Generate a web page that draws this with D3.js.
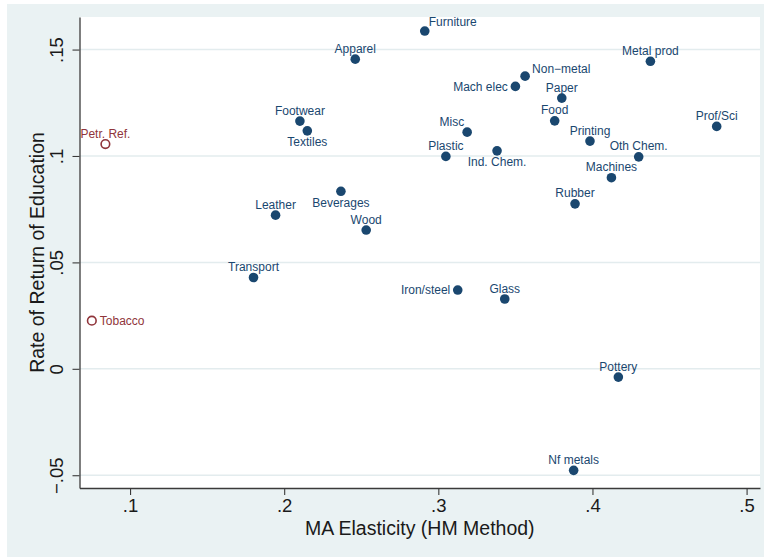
<!DOCTYPE html>
<html>
<head>
<meta charset="utf-8">
<script src="https://cdn.jsdelivr.net/npm/d3@7/dist/d3.min.js"></script>
<style>
  html, body { margin: 0; padding: 0; background: #ffffff; }
  svg { display: block; }
  text { font-family: "Liberation Sans", Arial, sans-serif; }
</style>
</head>
<body>
<svg id="chart" width="764" height="557"></svg>
<script>
// Industries: market-access elasticity vs. rate of return to education
const industries = [
  "Furniture", "Apparel", "Footwear", "Textiles", "Misc", "Plastic", "Ind. Chem.",
  "Beverages", "Leather", "Wood", "Transport", "Mach elec", "Non\u2212metal",
  "Metal prod", "Paper", "Food", "Prof/Sci", "Printing", "Oth Chem.", "Machines",
  "Rubber", "Iron/steel", "Glass", "Pottery", "Nf metals"
];
const maElasticity = [
  0.2912, 0.2461, 0.2102, 0.2150, 0.3187, 0.3049, 0.3381,
  0.2368, 0.1944, 0.2532, 0.1801, 0.3500, 0.3563,
  0.4376, 0.3801, 0.3755, 0.4806, 0.3984, 0.4300, 0.4123,
  0.3887, 0.3126, 0.3431, 0.4168, 0.3878
];
const returnEdu = [
  0.1587, 0.1455, 0.1164, 0.1118, 0.1112, 0.0998, 0.1024,
  0.0834, 0.0722, 0.0652, 0.0429, 0.1327, 0.1375,
  0.1445, 0.1272, 0.1165, 0.1139, 0.1070, 0.0996, 0.0898,
  0.0775, 0.0370, 0.0328, -0.0039, -0.0477
];

// Outlying industries, drawn as hollow markers
const outliers = ["Petr. Ref.", "Tobacco"];
const outlierElasticity = [0.0840, 0.0752];
const outlierReturn = [0.1056, 0.0226];

// Axis ticks
const xTickVals = [0.1, 0.2, 0.3, 0.4, 0.5];
const xTickLabels = [".1", ".2", ".3", ".4", ".5"];
const yTickVals = [-0.05, 0, 0.05, 0.1, 0.15];
const yTickLabels = ["\u2212.05", "0", ".05", ".1", ".15"];

const xTitle = "MA Elasticity (HM Method)";
const yTitle = "Rate of Return of Education";

// Label placement (clock positions), default is 12 o'clock
const labelClock = {
  "Furniture": 1, "Misc": 11,
  "Textiles": 6, "Ind. Chem.": 6, "Beverages": 6,
  "Mach elec": 9, "Iron/steel": 9, "Tobacco": 3, "Non\u2212metal": 2
};

const navy = "#1a476f";
const maroon = "#90353b";

const svg = d3.select("#chart");
const W = 764, H = 557;
const plot = { left: 79.5, top: 17, right: 760, bottom: 488 };

// figure background
svg.append("rect").attr("x", 7).attr("y", 4).attr("width", W - 7).attr("height", H - 4)
  .attr("fill", "#eaf2f3");
svg.append("rect").attr("x", plot.left).attr("y", plot.top)
  .attr("width", plot.right - plot.left).attr("height", plot.bottom - plot.top)
  .attr("fill", "#ffffff");

const x = d3.scaleLinear().domain([0.0672, 0.5087]).range([plot.left, plot.right]);
const y = d3.scaleLinear().domain([-0.0560, 0.1653]).range([plot.bottom, plot.top]);

// horizontal gridlines
svg.append("g").selectAll("line").data(yTickVals).join("line")
  .attr("x1", plot.left).attr("x2", plot.right)
  .attr("y1", d => y(d)).attr("y2", d => y(d))
  .attr("stroke", "#e3ecee").attr("stroke-width", 1.5);

// axes
const yAxis = d3.axisLeft(y).tickValues(yTickVals)
  .tickFormat((d, i) => yTickLabels[i]).tickSize(7).tickSizeOuter(0);
const gy = svg.append("g").attr("transform", `translate(${plot.left},0)`).call(yAxis);
gy.select(".domain").attr("stroke", "#3a3a3a").attr("stroke-width", 1.3);
gy.selectAll(".tick line").attr("stroke", "#3a3a3a").attr("stroke-width", 1.1);
gy.selectAll(".tick text")
  .attr("x", 0).attr("dy", null).attr("y", 0)
  .attr("transform", "translate(-16.5,0) rotate(-90)")
  .attr("text-anchor", "middle")
  .attr("font-size", 18.5).attr("fill", "#1a1a1a")
  .style("font-family", "'Liberation Sans', Arial, sans-serif");

const xAxis = d3.axisBottom(x).tickValues(xTickVals)
  .tickFormat((d, i) => xTickLabels[i]).tickSize(7).tickSizeOuter(0);
const gx = svg.append("g").attr("transform", `translate(0,${plot.bottom})`).call(xAxis);
gx.select(".domain").attr("stroke", "#3a3a3a").attr("stroke-width", 1.3);
gx.selectAll(".tick line").attr("stroke", "#3a3a3a").attr("stroke-width", 1.1);
gx.selectAll(".tick text")
  .attr("y", 24).attr("dy", null)
  .attr("font-size", 18.5).attr("fill", "#1a1a1a")
  .style("font-family", "'Liberation Sans', Arial, sans-serif");

// axis titles
svg.append("text").attr("x", (plot.left + plot.right) / 2).attr("y", 535)
  .attr("text-anchor", "middle").attr("font-size", 19.5).attr("fill", "#1a1a1a")
  .text(xTitle);
svg.append("text")
  .attr("transform", `translate(43.5,${(plot.top + plot.bottom) / 2}) rotate(-90)`)
  .attr("text-anchor", "middle").attr("font-size", 19.5).attr("fill", "#1a1a1a")
  .text(yTitle);

// label placement helper
function placeLabel(sel) {
  sel.each(function (d) {
    const t = d3.select(this);
    const cx = x(d.x), cy = y(d.y);
    const pos = labelClock[d.name] || 12;
    if (pos === 12) {
      t.attr("x", cx).attr("y", cy - 6.5).attr("text-anchor", "middle");
    } else if (pos === 1) {
      t.attr("x", cx + 4).attr("y", cy - 5.5).attr("text-anchor", "start");
    } else if (pos === 11) {
      t.attr("x", cx - 3).attr("y", cy - 6).attr("text-anchor", "end");
    } else if (pos === 6) {
      t.attr("x", cx).attr("y", cy + 15.5).attr("text-anchor", "middle");
    } else if (pos === 9) {
      t.attr("x", cx - 7.5).attr("y", cy + 4.2).attr("text-anchor", "end");
    } else if (pos === 3) {
      t.attr("x", cx + 8).attr("y", cy + 4.2).attr("text-anchor", "start");
    } else if (pos === 2) {
      t.attr("x", cx + 7).attr("y", cy - 3.3).attr("text-anchor", "start");
    }
  });
}

const mainData = industries.map((n, i) => ({ name: n, x: maElasticity[i], y: returnEdu[i] }));
const outData = outliers.map((n, i) => ({ name: n, x: outlierElasticity[i], y: outlierReturn[i] }));

// hollow markers for outliers
svg.append("g").selectAll("circle").data(outData).join("circle")
  .attr("cx", d => x(d.x)).attr("cy", d => y(d.y)).attr("r", 4.3)
  .attr("fill", "none").attr("stroke", maroon).attr("stroke-width", 1.6);
svg.append("g").selectAll("text").data(outData).join("text")
  .attr("font-size", 12).attr("fill", maroon)
  .text(d => d.name).call(placeLabel);

// filled markers
svg.append("g").selectAll("circle").data(mainData).join("circle")
  .attr("cx", d => x(d.x)).attr("cy", d => y(d.y)).attr("r", 4.8)
  .attr("fill", navy);
svg.append("g").selectAll("text").data(mainData).join("text")
  .attr("font-size", 12).attr("fill", navy)
  .text(d => d.name).call(placeLabel);
</script>
</body>
</html>
